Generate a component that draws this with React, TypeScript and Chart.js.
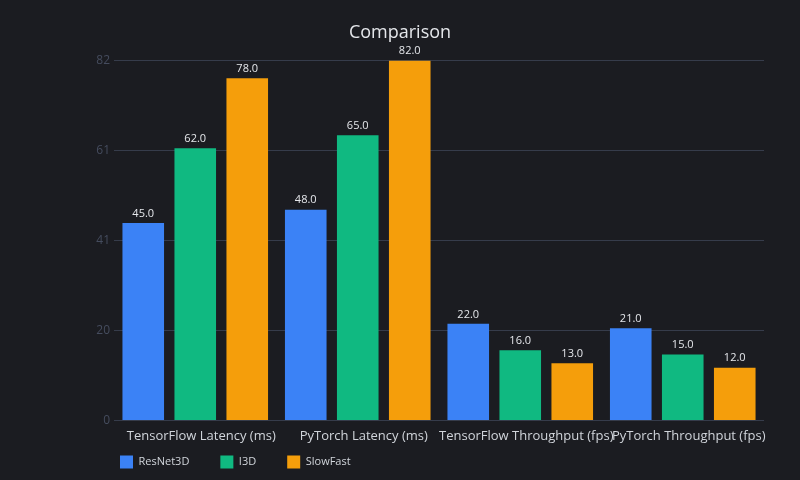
import React, { useEffect, useRef } from 'react';
import { Chart, registerables } from 'chart.js';

Chart.register(...registerables);

const categories = [
  'TensorFlow Latency (ms)',
  'PyTorch Latency (ms)',
  'TensorFlow Throughput (fps)',
  'PyTorch Throughput (fps)',
];
const seriesNames = ['ResNet3D', 'I3D', 'SlowFast'];
const resnet3d = [45, 48, 22, 21];
const i3d = [62, 65, 16, 15];
const slowfast = [78, 82, 13, 12];
const seriesColors = ['#3b82f6', '#10b981', '#f59e0b'];
const yMax = 82;
const yStep = 20.5;

const FONT = '"Open Sans", "Noto Sans", sans-serif';
const BG = '#1b1c21';

const valueLabels = {
  id: 'valueLabels',
  afterDatasetsDraw(chart: any) {
    const ctx = chart.ctx;
    ctx.save();
    ctx.font = `11px ${FONT}`;
    ctx.fillStyle = '#e5e7eb';
    ctx.textAlign = 'center';
    ctx.textBaseline = 'bottom';
    chart.data.datasets.forEach((ds: any, i: number) => {
      const meta = chart.getDatasetMeta(i);
      if (meta.hidden) return;
      meta.data.forEach((bar: any, j: number) => {
        ctx.fillText(Number(ds.data[j]).toFixed(1), bar.x, bar.y - 4);
      });
    });
    ctx.restore();
  },
};

const legendPlacement = {
  id: 'legendPlacement',
  afterLayout(chart: any) {
    const lg = chart.legend;
    if (!lg) return;
    const pad = lg.options.labels.padding;
    lg.left = chart.chartArea.left + 6 - pad;
    lg.top = chart.chartArea.bottom + 35 - pad;
    lg.bottom = chart.height;
  },
};

const bgPlugin = {
  id: 'bgFill',
  beforeDraw(chart: any) {
    const ctx = chart.ctx;
    ctx.save();
    ctx.fillStyle = BG;
    ctx.fillRect(0, 0, chart.width, chart.height);
    ctx.restore();
  },
};

export default function App() {
  const ref = useRef<HTMLCanvasElement | null>(null);
  useEffect(() => {
    if (!ref.current) return;
    const values = [resnet3d, i3d, slowfast];
    const chart = new Chart(ref.current, {
      type: 'bar',
      data: {
        labels: categories,
        datasets: seriesNames.map((name, i) => ({
          label: name,
          data: values[i],
          backgroundColor: seriesColors[i],
          borderWidth: 0,
          barPercentage: 0.8,
          categoryPercentage: 0.96,
        })),
      },
      options: {
        animation: false,
        responsive: false,
        maintainAspectRatio: false,
        layout: { padding: { top: 10, left: 0, right: 0, bottom: 0 } },
        plugins: {
          title: {
            display: true,
            text: 'Comparison',
            color: '#e5e7eb',
            font: { family: FONT, size: 18, weight: 'normal' },
            padding: { top: 12, bottom: 17 },
          },
          legend: {
            display: true,
            position: 'bottom',
            align: 'start',
            maxHeight: 28,
            labels: {
              color: '#d1d5db',
              font: { family: FONT, size: 11 },
              boxWidth: 13,
              boxHeight: 13,
              padding: 31,
            },
          },
          tooltip: { enabled: false },
        },
        scales: {
          x: {
            grid: { display: false, drawTicks: false },
            border: { display: false },
            ticks: {
              color: '#d1d5db',
              font: { family: FONT, size: 13 },
              padding: 8,
              labelOffset: 6,
              autoSkip: false,
              maxRotation: 0,
              minRotation: 0,
            },
          },
          y: {
            min: 0,
            max: yMax,
            grid: { color: '#363c4b', drawTicks: false },
            border: { display: false },
            ticks: {
              stepSize: yStep,
              color: '#454c5e',
              font: { family: FONT, size: 12 },
              padding: 4,
              callback: (v: any) => String(Math.floor(Number(v))),
            },
            afterFit: (s: any) => { s.width = 114; },
          },
          yRight: {
            position: 'right',
            display: true,
            grid: { display: false, drawTicks: false },
            border: { display: false },
            ticks: { display: false },
            afterFit: (s: any) => { s.width = 36; },
          },
        },
      },
      plugins: [bgPlugin, valueLabels, legendPlacement],
    } as any);
    return () => chart.destroy();
  }, []);

  return (
    <div style={{ position: 'fixed', left: 0, top: 0, width: 800, height: 480, background: BG }}>
      <canvas ref={ref} width={800} height={480} style={{ display: 'block', width: 800, height: 480 }} />
    </div>
  );
}
